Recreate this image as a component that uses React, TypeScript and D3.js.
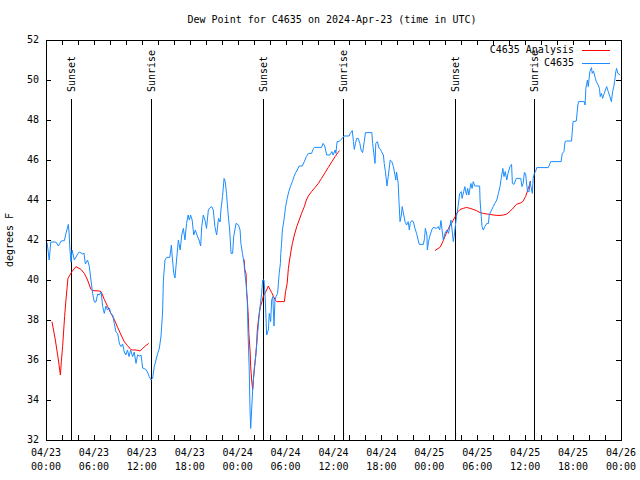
import React from "react";
import * as d3 from "d3";

const titleText = "Dew Point for C4635 on 2024-Apr-23 (time in UTC)";
const yLabel = "degrees F";
const seriesNames = ["C4635 Analysis", "C4635"];
const seriesColors = ["#ff0000", "#1a8cff"];

// hours since 2024-04-23 00:00 UTC, dew point (°F)
const observed: [number, number][] = [[0.0,42.0],[0.15,41.83],[0.4,41.0],[0.6,41.9],[1.25,41.9],[1.55,41.7],[1.9,41.95],[2.3,41.97],[2.5,42.33],[2.8,42.78],[2.9,42.3],[3.0,41.5],[3.13,40.9],[3.26,41.5],[3.55,41.0],[3.97,41.3],[4.17,41.4],[4.6,41.3],[4.75,41.35],[4.93,40.8],[5.2,41.0],[5.43,40.67],[5.63,40.0],[5.84,39.33],[6.05,38.9],[6.25,38.9],[6.47,39.3],[6.68,39.25],[6.9,39.4],[7.1,38.67],[7.3,38.33],[7.5,38.7],[7.7,38.5],[7.93,38.6],[8.13,38.3],[8.35,38.25],[8.55,37.83],[8.77,37.4],[8.97,37.33],[9.2,36.8],[9.4,36.67],[9.6,36.8],[9.8,36.4],[10.0,36.25],[10.2,36.5],[10.4,36.17],[10.6,36.5],[10.85,36.17],[11.05,36.4],[11.27,35.83],[11.47,36.25],[11.7,36.2],[11.9,36.25],[12.1,35.6],[12.5,35.53],[12.7,35.4],[12.93,35.17],[13.15,35.0],[13.35,35.08],[13.56,35.67],[13.77,36.0],[13.98,36.33],[14.2,36.6],[14.4,37.2],[14.6,38.4],[14.7,40.0],[14.9,41.0],[15.1,41.13],[15.5,41.13],[15.7,41.75],[15.8,41.2],[16.0,40.33],[16.15,40.1],[16.35,41.0],[16.57,42.0],[16.8,41.5],[17.0,42.25],[17.2,42.58],[17.4,42.0],[17.6,42.83],[17.8,43.25],[17.95,43.0],[18.1,43.25],[18.3,43.0],[18.5,42.25],[18.7,42.5],[18.9,42.25],[19.16,42.0],[19.37,41.7],[19.5,42.67],[19.7,43.25],[19.9,43.0],[20.1,42.58],[20.33,43.5],[20.5,43.6],[20.75,43.67],[20.95,43.5],[21.15,42.67],[21.37,42.25],[21.6,43.08],[21.8,42.9],[21.9,43.5],[22.1,44.17],[22.3,45.08],[22.45,44.9],[22.6,44.33],[22.8,43.33],[23.0,42.5],[23.17,41.33],[23.37,41.33],[23.5,42.17],[23.8,42.83],[24.1,42.75],[24.3,42.5],[24.4,41.83],[24.6,41.33],[24.8,40.83],[24.9,40.33],[25.05,39.83],[25.2,39.0],[25.3,37.33],[25.45,35.5],[25.55,33.5],[25.63,32.58],[25.75,33.5],[25.88,34.5],[26.1,35.67],[26.3,36.33],[26.5,37.33],[26.7,38.25],[26.85,38.83],[27.0,39.33],[27.13,40.0],[27.3,40.0],[27.46,39.0],[27.63,37.25],[27.84,37.5],[27.96,38.33],[28.13,37.92],[28.26,39.0],[28.4,39.17],[28.55,37.7],[28.67,39.0],[28.8,39.17],[29.0,39.33],[29.2,40.33],[29.35,40.83],[29.4,41.33],[29.5,41.83],[29.6,42.5],[29.8,43.0],[30.0,43.67],[30.2,44.08],[30.4,44.42],[30.6,44.67],[30.85,44.92],[31.05,45.17],[31.27,45.38],[31.4,45.45],[31.7,45.7],[32.1,45.7],[32.43,46.0],[32.6,46.17],[32.85,46.33],[33.25,46.33],[33.5,46.58],[33.6,46.63],[34.5,46.63],[34.7,46.83],[34.9,46.7],[35.15,46.25],[35.55,46.25],[35.8,46.42],[35.95,46.25],[36.2,46.5],[36.3,46.33],[36.45,46.92],[36.7,46.92],[36.95,47.03],[37.1,47.08],[37.3,47.2],[37.95,47.2],[38.1,47.33],[38.35,47.47],[38.5,46.92],[38.6,46.53],[38.75,46.83],[38.9,47.08],[39.1,47.08],[39.3,46.83],[39.45,46.5],[39.65,46.37],[39.85,46.92],[40.0,47.37],[40.8,47.37],[40.9,46.83],[41.2,45.83],[41.3,46.83],[41.5,46.92],[41.7,46.58],[41.9,46.53],[42.0,46.42],[42.25,46.25],[42.35,45.83],[42.5,45.42],[42.7,44.7],[42.85,45.17],[43.1,46.0],[43.3,45.92],[43.5,45.67],[43.7,45.25],[43.8,45.0],[43.9,45.4],[44.1,44.83],[44.2,43.92],[44.33,42.92],[44.5,43.25],[44.6,43.67],[44.8,43.25],[44.95,42.92],[45.15,42.75],[45.35,42.92],[45.5,42.5],[45.6,42.83],[45.8,42.97],[46.0,42.92],[46.2,42.58],[46.4,42.33],[46.6,42.0],[46.75,41.78],[47.25,41.78],[47.4,42.08],[47.5,42.58],[47.7,42.25],[47.75,41.5],[47.9,41.92],[48.1,42.25],[48.3,42.5],[48.5,42.63],[48.9,42.58],[49.1,42.67],[49.3,42.5],[49.45,42.97],[49.6,42.5],[49.75,42.0],[49.95,42.33],[50.2,42.5],[50.4,42.33],[50.6,42.75],[50.7,43.0],[50.85,42.5],[51.0,41.92],[51.1,42.17],[51.25,42.67],[51.4,43.17],[51.6,43.67],[51.8,44.33],[52.0,44.42],[52.1,44.08],[52.3,44.42],[52.45,44.67],[52.65,44.25],[52.8,44.58],[52.95,44.25],[53.2,44.83],[53.35,44.58],[53.5,44.92],[53.7,44.7],[54.3,44.7],[54.35,44.0],[54.5,43.17],[54.6,42.67],[54.75,42.5],[54.95,42.67],[55.2,42.83],[55.4,42.83],[55.5,43.25],[55.7,43.42],[56.0,43.67],[56.2,43.83],[56.45,44.0],[56.65,44.33],[56.85,44.67],[57.0,45.08],[57.2,45.58],[57.35,45.17],[57.5,45.42],[57.7,45.0],[57.85,45.33],[58.1,45.67],[58.3,45.78],[58.4,44.83],[58.6,44.78],[58.9,45.08],[59.45,45.08],[59.6,44.67],[59.75,44.83],[59.9,45.38],[60.05,45.33],[60.2,44.75],[60.3,44.42],[60.5,44.42],[60.6,44.92],[60.9,44.33],[61.0,45.08],[61.15,45.33],[61.3,45.42],[61.45,45.62],[62.9,45.62],[63.2,45.92],[64.5,45.92],[64.65,46.33],[64.85,46.42],[65.0,46.92],[65.2,46.95],[65.8,46.95],[66.0,47.92],[66.4,47.95],[66.6,48.75],[66.7,48.92],[67.4,48.92],[67.5,48.75],[67.6,49.58],[67.8,50.0],[67.9,49.67],[68.1,50.42],[68.3,50.62],[68.4,50.33],[68.55,50.45],[68.8,50.08],[68.9,49.92],[69.1,49.78],[69.3,49.58],[69.4,49.17],[69.55,49.33],[69.7,49.08],[69.9,49.33],[70.2,49.67],[70.4,49.42],[70.55,49.25],[70.8,48.92],[70.95,49.42],[71.1,49.67],[71.2,49.92],[71.35,50.42],[71.45,50.58],[71.6,50.33],[71.9,50.25]];

const analysis1: [number, number][] = [[0.75,37.92],[1.17,37.0],[1.55,36.0],[1.8,35.25],[1.92,35.92],[2.08,36.67],[2.33,38.17],[2.5,39.0],[2.75,40.08],[3.0,40.25],[3.25,40.42],[3.75,40.67],[4.38,40.53],[4.8,40.33],[5.2,40.0],[5.63,39.53],[5.84,39.47],[6.68,39.45],[6.9,39.42],[7.3,39.03],[7.72,38.67],[8.13,38.33],[8.55,38.03],[8.97,37.63],[9.4,37.25],[9.8,36.92],[10.2,36.72],[10.6,36.53],[10.85,36.5],[11.27,36.5],[11.8,36.45],[12.1,36.58],[12.5,36.72],[12.86,36.83]];
const analysis2: [number, number][] = [[24.8,41.03],[24.9,40.5],[25.05,40.33],[25.13,39.33],[25.2,39.08],[25.33,38.17],[25.4,37.33],[25.55,36.5],[25.63,35.67],[25.75,35.0],[25.88,34.53],[26.0,35.17],[26.13,35.67],[26.25,36.17],[26.38,36.83],[26.46,37.5],[26.6,38.0],[26.7,38.33],[26.85,38.67],[27.05,38.92],[27.2,39.17],[27.4,39.33],[27.63,39.5],[27.84,39.7],[28.05,39.53],[28.26,39.37],[28.5,39.17],[28.7,39.0],[28.88,38.92],[29.85,38.92],[30.0,39.42],[30.2,39.83],[30.35,40.58],[30.5,41.0],[30.7,41.5],[30.85,41.83],[31.1,42.25],[31.4,42.67],[31.7,43.0],[32.0,43.33],[32.35,43.67],[32.6,44.0],[32.85,44.2],[33.25,44.42],[33.7,44.63],[34.1,44.83],[34.5,45.08],[34.95,45.37],[35.35,45.63],[35.8,45.92],[36.2,46.17],[36.55,46.37],[36.75,46.47]];
const analysis3: [number, number][] = [[48.7,41.47],[49.1,41.58],[49.3,41.62],[49.5,41.75],[49.75,41.97],[49.95,42.17],[50.2,42.42],[50.4,42.58],[50.6,42.75],[50.85,42.87],[51.0,43.0],[51.25,43.17],[51.4,43.3],[51.6,43.42],[51.85,43.53],[52.25,43.58],[52.65,43.63],[53.1,43.58],[53.5,43.53],[53.9,43.47],[54.35,43.37],[54.75,43.33],[55.2,43.3],[55.6,43.28],[56.0,43.25],[56.45,43.23],[56.85,43.23],[57.3,43.25],[57.7,43.3],[58.0,43.4],[58.4,43.55],[58.9,43.78],[59.4,43.85],[59.7,43.92],[60.05,44.17],[60.4,44.58],[60.7,44.95]];

const sunEvents: [string, number][] = [["Sunset",3.17],["Sunrise",13.19],["Sunset",27.22],["Sunrise",37.23],["Sunset",51.26],["Sunrise",61.15]];

const yTicks = [32, 34, 36, 38, 40, 42, 44, 46, 48, 50, 52];
const START = Date.UTC(2024, 3, 23, 0, 0);
const END = Date.UTC(2024, 3, 26, 0, 0);

const toDate = (h: number) => new Date(START + h * 3600e3);
const FONT = "'DejaVu Sans Mono', 'Liberation Mono', monospace";

export default function App() {
  const W = 640, H = 480;
  const L = 46, R = 621, T = 40, B = 440;
  const x = d3.scaleUtc().domain([new Date(START), new Date(END)]).range([L, R]);
  const y = d3.scaleLinear().domain([32, 52]).range([B, T]);
  const line = d3.line<[number, number]>().x(d => x(toDate(d[0]))).y(d => y(d[1]));
  const minorTicks = x.ticks(d3.utcHour.every(2)!);
  const majorTicks = x.ticks(d3.utcHour.every(6)!);
  const fmtDate = d3.utcFormat("%m/%d");
  const fmtTime = d3.utcFormat("%H:%M");
  const px = (v: number) => Math.round(v) + 0.5;

  return (
    <svg width={W} height={H} style={{ position: "absolute", left: 0, top: 0, background: "#fff" }}
      fontFamily={FONT} fontSize={10}>
      <rect x={0} y={0} width={W} height={H} fill="#fff" />
      <text x={332} y={20} textAnchor="middle" dominantBaseline="middle" fill="#000">{titleText}</text>
      <text transform={`translate(10,240) rotate(-90)`} textAnchor="middle" dominantBaseline="middle" fill="#000">{yLabel}</text>
      {/* y ticks */}
      {yTicks.map(v => (
        <g key={"y" + v}>
          <line x1={L} x2={L + 5} y1={px(y(v))} y2={px(y(v))} stroke="#000" />
          <line x1={R - 5} x2={R} y1={px(y(v))} y2={px(y(v))} stroke="#000" />
          <text x={39} y={y(v)} textAnchor="end" dominantBaseline="middle" fill="#000">{v}</text>
        </g>
      ))}
      {/* x ticks */}
      {minorTicks.map(d => (
        <g key={"x" + d.getTime()}>
          <line x1={px(x(d))} x2={px(x(d))} y1={B} y2={B - 5} stroke="#000" />
          <line x1={px(x(d))} x2={px(x(d))} y1={T} y2={T + 5} stroke="#000" />
        </g>
      ))}
      {majorTicks.map(d => (
        <g key={"xl" + d.getTime()}>
          <text x={x(d)} y={453} textAnchor="middle" dominantBaseline="middle" fill="#000">{fmtDate(d)}</text>
          <text x={x(d)} y={467} textAnchor="middle" dominantBaseline="middle" fill="#000">{fmtTime(d)}</text>
        </g>
      ))}
      {/* sun events */}
      {sunEvents.map(([name, h], i) => (
        <g key={"s" + i}>
          <line x1={px(x(toDate(h)))} x2={px(x(toDate(h)))} y1={99} y2={B} stroke="#000" />
          <text transform={`translate(${px(x(toDate(h)))},92) rotate(-90)`} textAnchor="start" dominantBaseline="middle" fill="#000">{name}</text>
        </g>
      ))}
      {/* series */}
      {[analysis1, analysis2, analysis3].map((s, i) => (
        <path key={"a" + i} d={line(s) || ""} fill="none" stroke={seriesColors[0]} strokeWidth={1} />
      ))}
      <path d={line(observed) || ""} fill="none" stroke={seriesColors[1]} strokeWidth={1} />
      {/* frame */}
      <rect x={L + 0.5} y={T + 0.5} width={R - L} height={B - T} fill="none" stroke="#000" />
      {/* legend */}
      {seriesNames.map((n, i) => (
        <g key={"l" + i}>
          <text x={574} y={50 + i * 13} textAnchor="end" dominantBaseline="middle" fill="#000">{n}</text>
          <line x1={582} x2={610} y1={50.5 + i * 13} y2={50.5 + i * 13} stroke={seriesColors[i]} />
        </g>
      ))}
    </svg>
  );
}
